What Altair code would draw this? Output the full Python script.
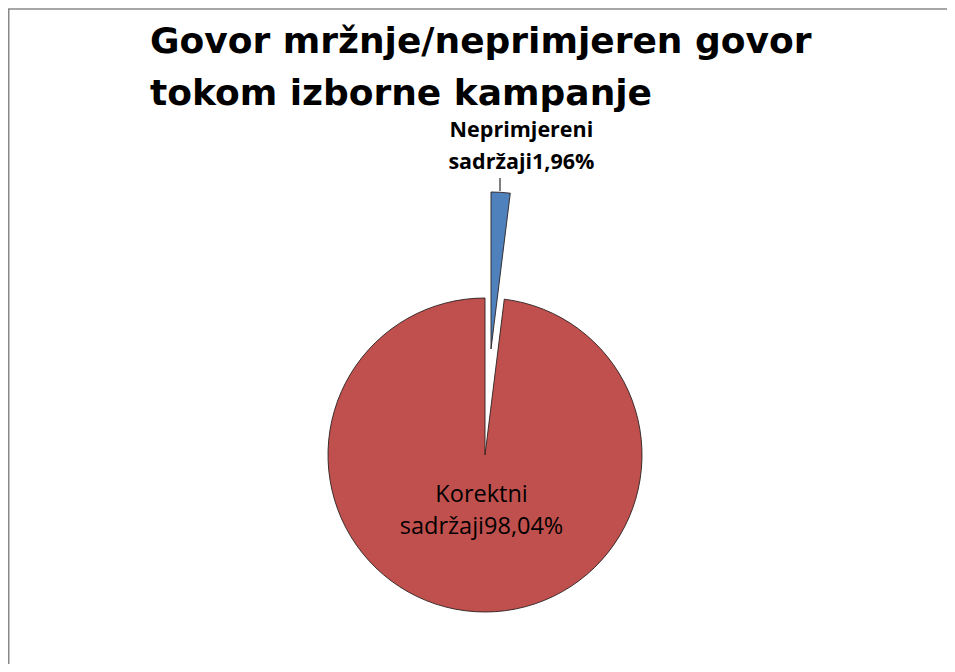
import altair as alt
import pandas as pd

# ---- data ----
categories = ["Neprimjereni sadržaji", "Korektni sadržaji"]
shares = [1.96, 98.04]
slice_colors = ["#4F81BD", "#C0504D"]
title_lines = ["Govor mržnje/neprimjeren govor", "tokom izborne kampanje"]

labels = [c.replace(" ", "\n") + f"{v:.2f}".replace(".", ",") + "%" for c, v in zip(categories, shares)]
df = pd.DataFrame({"cat": categories, "value": shares, "ord": list(range(len(categories))), "label": labels})

W, H = 939, 656
R = 157


def slice_layers(cat, cx, cy, label_r, label_dx, label_dy, bold, size):
    is_cat = alt.datum.cat == cat
    base = alt.Chart(df).encode(
        theta=alt.Theta("value:Q", stack=True),
        order=alt.Order("ord:Q"),
        x=alt.value(cx),
        y=alt.value(cy),
    )
    arc = base.mark_arc(outerRadius=R, strokeWidth=0.9).encode(
        fill=alt.condition(
            is_cat,
            alt.Color("cat:N", scale=alt.Scale(domain=categories, range=slice_colors), legend=None),
            alt.value("transparent"),
        ),
        stroke=alt.condition(is_cat, alt.value("#2b2020"), alt.value("transparent")),
    )
    txt = base.mark_text(
        radius=label_r, dx=label_dx, dy=label_dy, align="center", baseline="middle",
        lineBreak="\n", lineHeight=32, font="Open Sans", fontSize=size,
        fontWeight="bold" if bold else "normal", color="#000000",
    ).encode(
        text="label:N",
        opacity=alt.condition(is_cat, alt.value(1), alt.value(0)),
    )
    return arc, txt


red_arc, red_txt = slice_layers("Korektni sadržaji", 477, 447, 56, 0, -16, False, 23.5)
blue_arc, blue_txt = slice_layers("Neprimjereni sadržaji", 483, 341, 202, 18, -16, True, 21.5)

one = pd.DataFrame({"k": [0]})
border_top = alt.Chart(one).mark_rule(color="#888888", strokeWidth=1.5).encode(
    x=alt.value(0), x2=alt.value(W), y=alt.value(1), y2=alt.value(1))
border_left = alt.Chart(one).mark_rule(color="#888888", strokeWidth=1.5).encode(
    x=alt.value(0.75), x2=alt.value(0.75), y=alt.value(1), y2=alt.value(H))
leader = alt.Chart(one).mark_rule(color="#000000", strokeWidth=1).encode(
    x=alt.value(492), x2=alt.value(492), y=alt.value(170), y2=alt.value(183))

title = alt.Chart(pd.DataFrame({"t": ["\n".join(title_lines)]})).mark_text(
    align="left", baseline="alphabetic", lineBreak="\n", lineHeight=52,
    font="DejaVu Sans", fontWeight="bold", fontSize=36, color="#000000",
).encode(text="t:N", x=alt.value(142), y=alt.value(45))

chart = alt.layer(
    border_top, border_left, red_arc, blue_arc, leader, red_txt, blue_txt, title
).properties(
    width=W, height=H, autosize=alt.AutoSizeParams(type="none"), padding=0
).configure_view(stroke=None)

chart.save("out.html", embed_options={"renderer": "svg", "actions": False})
